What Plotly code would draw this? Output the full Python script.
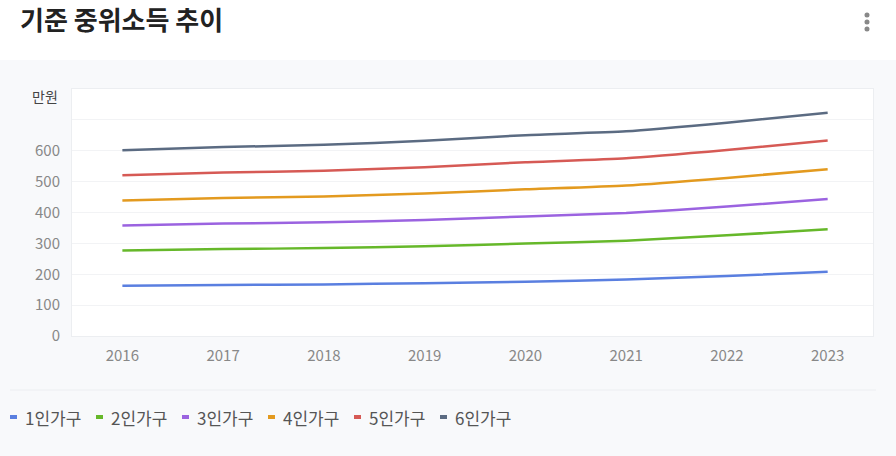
import plotly.graph_objects as go

# 기준 중위소득 (만원)
years = ['2016', '2017', '2018', '2019', '2020', '2021', '2022', '2023']
series_names = ['1인가구', '2인가구', '3인가구', '4인가구', '5인가구', '6인가구']
h1 = [162.5, 165.3, 167.2, 170.7, 175.7, 182.8, 194.5, 207.8]
h2 = [276.7, 281.4, 284.7, 290.7, 299.2, 308.8, 326.0, 345.6]
h3 = [357.9, 364.1, 368.3, 376.0, 387.1, 398.4, 419.5, 443.5]
h4 = [439.1, 446.7, 451.9, 461.4, 474.9, 487.6, 512.1, 540.1]
h5 = [520.4, 529.4, 535.5, 546.7, 562.8, 575.7, 602.5, 633.1]
h6 = [601.6, 612.0, 619.1, 632.1, 650.6, 662.9, 690.7, 722.8]
y_ticks = [0, 100, 200, 300, 400, 500, 600, 700, 800]
y_ticktext = ['0', '100', '200', '300', '400', '500', '600', '', '']

colors = ['#5a7fe0', '#66b82a', '#9b63e0', '#e39a1f', '#d65a55', '#5b6b82']

FONT = 'Noto Sans CJK KR, Noto Sans, sans-serif'

# plot area in pixels: left 72, width 801, bottom 336, height 247
def px(x):
    return (x - 72) / 801


def py(y):
    return (336 - y) / 247


fig = go.Figure()
for name, vals, c in zip(series_names, [h1, h2, h3, h4, h5, h6], colors):
    fig.add_trace(go.Scatter(
        x=years, y=vals, name=name, mode='lines',
        line=dict(color=c, width=2.5, shape='spline', smoothing=0.6),
        showlegend=False))

# legend row drawn by hand: short rounded dash + label
for i, (name, c) in enumerate(zip(series_names, colors)):
    x0 = 10 + 86 * i
    fig.add_shape(type='line', xref='paper', yref='paper',
                  x0=px(x0), x1=px(x0 + 7), y0=py(417), y1=py(417),
                  line=dict(color=c, width=4))
    fig.add_annotation(text=name, xref='paper', yref='paper',
                       x=px(x0 + 13), y=py(417), xanchor='left', yanchor='middle',
                       showarrow=False,
                       font=dict(family=FONT, size=17, color='#555555'))

# white title strip, gray panel is the paper
fig.add_shape(type='rect', xref='paper', yref='paper',
              x0=-0.2, x1=1.1, y0=py(60), y1=py(-10),
              fillcolor='white', line_width=0, layer='below')
# separator above legend
fig.add_shape(type='line', xref='paper', yref='paper',
              x0=px(10), x1=px(876), y0=py(390), y1=py(390),
              line=dict(color='#eceef1', width=1))
# menu dots
for yy in [15, 22, 29]:
    fig.add_shape(type='circle', xref='paper', yref='paper',
                  xsizemode='pixel', ysizemode='pixel',
                  xanchor=px(867), yanchor=py(yy),
                  x0=-2.5, x1=2.5, y0=-2.5, y1=2.5,
                  fillcolor='#888888', line_width=0)

fig.add_annotation(text='만원', xref='paper', yref='paper',
                   x=px(45), y=py(96),
                   xanchor='center', yanchor='middle', showarrow=False,
                   font=dict(family=FONT, size=14, color='#444444'))

fig.update_layout(
    width=896, height=456,
    margin=dict(l=72, r=23, t=89, b=120, autoexpand=False),
    paper_bgcolor='#f8f9fb',
    plot_bgcolor='white',
    font=dict(family=FONT, color='#888888'),
    title=dict(text='<b>기준 중위소득 추이</b>', xref='container', yref='container',
               x=20 / 896, xanchor='left', y=1 - 21 / 456, yanchor='middle',
               font=dict(family=FONT, size=26, color='#222222')),
    showlegend=False,
    hovermode='x unified',
)
fig.update_xaxes(type='category', range=[-0.5, 7.45], showgrid=False,
                 showline=True, mirror=True, linecolor='#eceef1',
                 ticks='', ticklabelstandoff=6,
                 tickfont=dict(family=FONT, size=15, color='#888888'))
fig.update_yaxes(range=[0, 800], tickvals=y_ticks, ticktext=y_ticktext,
                 showgrid=True, gridcolor='#f2f3f5', zeroline=False,
                 showline=True, mirror=True, linecolor='#eceef1',
                 ticks='', ticklabelstandoff=8,
                 tickfont=dict(family=FONT, size=15, color='#888888'))

fig.write_html('out.html', config={'displayModeBar': False},
               post_script="document.body.style.margin='0';")
